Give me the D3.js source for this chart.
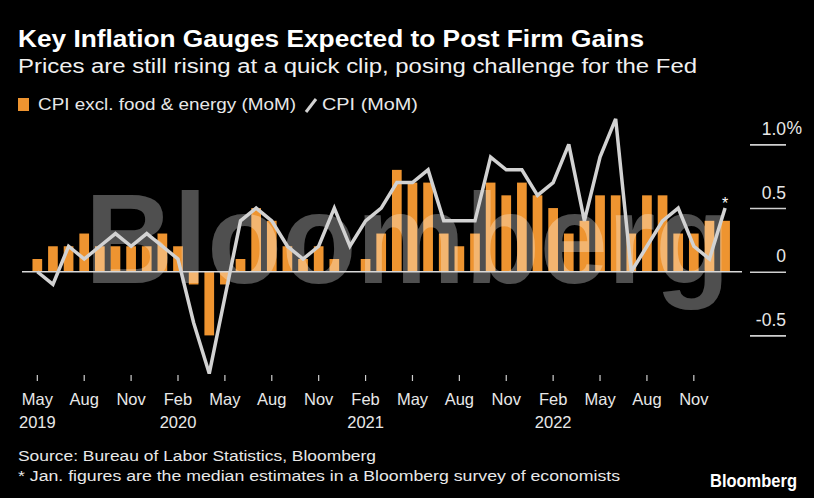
<!DOCTYPE html>
<html>
<head>
<meta charset="utf-8">
<script src="https://cdn.jsdelivr.net/npm/d3@7"></script>
<style>
  html, body { margin: 0; padding: 0; background: #000; }
  svg { display: block; }
  text { font-family: "Liberation Sans", Arial, sans-serif; }
</style>
</head>
<body>
<div id="chart"></div>
<script>
// ---------- DATA ----------
const months = [
  "2019-05","2019-06","2019-07","2019-08","2019-09","2019-10","2019-11","2019-12",
  "2020-01","2020-02","2020-03","2020-04","2020-05","2020-06","2020-07","2020-08","2020-09","2020-10","2020-11","2020-12",
  "2021-01","2021-02","2021-03","2021-04","2021-05","2021-06","2021-07","2021-08","2021-09","2021-10","2021-11","2021-12",
  "2022-01","2022-02","2022-03","2022-04","2022-05","2022-06","2022-07","2022-08","2022-09","2022-10","2022-11","2022-12",
  "2023-01"
];
// CPI excl. food & energy, MoM %
const coreCPI = [
  0.1, 0.2, 0.2, 0.3, 0.2, 0.2, 0.2, 0.2,
  0.3, 0.2, -0.1, -0.5, -0.1, 0.1, 0.5, 0.4, 0.2, 0.1, 0.2, 0.1,
  0.0, 0.1, 0.3, 0.8, 0.7, 0.7, 0.3, 0.2, 0.3, 0.7, 0.6, 0.7,
  0.6, 0.5, 0.3, 0.4, 0.6, 0.6, 0.3, 0.6, 0.6, 0.3, 0.3, 0.4,
  0.4
];
// Headline CPI, MoM %
const headlineCPI = [
  0.0, -0.1, 0.2, 0.1, 0.2, 0.3, 0.2, 0.3,
  0.2, 0.1, -0.4, -0.8, -0.2, 0.4, 0.5, 0.4, 0.2, 0.1, 0.2, 0.5,
  0.2, 0.4, 0.5, 0.7, 0.7, 0.8, 0.4, 0.4, 0.4, 0.9, 0.8, 0.8,
  0.6, 0.7, 1.0, 0.4, 0.9, 1.2, 0.0, 0.2, 0.4, 0.5, 0.2, 0.1,
  0.5
];
const xTickMonths = ["2019-05","2019-08","2019-11","2020-02","2020-05","2020-08","2020-11",
  "2021-02","2021-05","2021-08","2021-11","2022-02","2022-05","2022-08","2022-11"];
const xTickLabels = ["May","Aug","Nov","Feb","May","Aug","Nov","Feb","May","Aug","Nov","Feb","May","Aug","Nov"];
const xTickYears  = ["2019","","","2020","","","","2021","","","","2022","","",""];
const yTicks = [-0.5, 0, 0.5, 1.0];
const yTickLabels = ["-0.5", "0", "0.5", "1.0"];

const title = "Key Inflation Gauges Expected to Post Firm Gains";
const subtitle = "Prices are still rising at a quick clip, posing challenge for the Fed";
const legendCore = "CPI excl. food & energy (MoM)";
const legendCPI = "CPI (MoM)";
const source = "Source: Bureau of Labor Statistics, Bloomberg";
const note = "* Jan. figures are the median estimates in a Bloomberg survey of economists";

// ---------- CHART ----------
const W = 814, H = 498;
const ORANGE = "#EE9430";
const LINE = "#d2d2d2";
const TEXT = "#e8e8e8";

const svg = d3.select("#chart").append("svg").attr("width", W).attr("height", H);
svg.append("rect").attr("width", W).attr("height", H).attr("fill", "#000");

const x = d3.scaleBand().domain(months).range([29.5, 732.9]).paddingInner(0.38).paddingOuter(0.19);
const y = d3.scaleLinear().domain([-0.5, 1.0]).range([335.4, 144.4]);
const cx = m => x(m) + x.bandwidth() / 2;

// Bars
svg.append("g").selectAll("rect").data(months).join("rect")
  .attr("x", d => x(d))
  .attr("width", x.bandwidth())
  .attr("y", (d, i) => Math.min(y(coreCPI[i]), y(0)))
  .attr("height", (d, i) => Math.abs(y(coreCPI[i]) - y(0)))
  .attr("fill", ORANGE);

// Watermark
svg.append("text")
  .attr("x", 85).attr("y", 283)
  .attr("font-size", 128).attr("font-weight", "bold")
  .attr("textLength", 645).attr("lengthAdjust", "spacingAndGlyphs")
  .attr("fill", "#ffffff").attr("fill-opacity", 0.31)
  .text("Bloomberg");

// Zero line
svg.append("line")
  .attr("x1", 22).attr("x2", 742).attr("y1", y(0)).attr("y2", y(0))
  .attr("stroke", "#d8d8d8").attr("stroke-width", 1.6);

// CPI line
const line = d3.line().x((d, i) => cx(months[i])).y(d => y(d));
svg.append("path").datum(headlineCPI)
  .attr("d", line).attr("fill", "none")
  .attr("stroke", LINE).attr("stroke-width", 3.5)
  .attr("stroke-linejoin", "miter").attr("stroke-miterlimit", 3);

// Asterisk on last point
const lastM = months[months.length - 1];
svg.append("text")
  .attr("x", cx(lastM)).attr("y", y(headlineCPI[headlineCPI.length - 1]) + 1)
  .attr("text-anchor", "middle").attr("font-size", 16).attr("fill", "#fff")
  .text("*");

// X axis
const xAxis = d3.axisBottom(x).tickValues(xTickMonths).tickSize(6).tickFormat("");
const gx = svg.append("g").attr("transform", "translate(0,375)").call(xAxis);
gx.select(".domain").remove();
gx.selectAll(".tick line").attr("stroke", "#cfcfcf").attr("stroke-width", 1.2);
gx.selectAll(".tick").each(function (d, i) {
  const t = d3.select(this).append("text")
    .attr("fill", TEXT).attr("font-size", 16.5).attr("text-anchor", "middle");
  t.append("tspan").attr("x", 0).attr("y", 30).text(xTickLabels[i]);
  if (xTickYears[i]) t.append("tspan").attr("x", 0).attr("y", 53).text(xTickYears[i]);
});

// Y axis (right)
const yAxis = d3.axisRight(y).tickValues(yTicks).tickSize(36).tickFormat((d, i) => yTickLabels[i]);
const gy = svg.append("g").attr("transform", "translate(750,0)").call(yAxis);
gy.select(".domain").remove();
gy.selectAll(".tick line").attr("stroke", "#cfcfcf").attr("stroke-width", 1.6);
gy.selectAll(".tick text")
  .attr("x", 36).attr("y", -10).attr("dy", 0)
  .attr("text-anchor", "end").attr("fill", TEXT).attr("font-size", 17.5)
  .attr("font-family", "Liberation Sans, Arial, sans-serif");
gy.append("text").attr("x", 36.5).attr("y", y(1.0) - 10)
  .attr("fill", TEXT).attr("font-size", 17.5).attr("font-family", "Liberation Sans, Arial, sans-serif")
  .text("%");

// Title + subtitle
svg.append("text").attr("x", 18).attr("y", 47)
  .attr("font-size", 23).attr("font-weight", "bold").attr("fill", "#fff")
  .attr("textLength", 626).attr("lengthAdjust", "spacingAndGlyphs")
  .text(title);
svg.append("text").attr("x", 18).attr("y", 73)
  .attr("font-size", 20).attr("fill", "#f0f0f0")
  .attr("textLength", 679).attr("lengthAdjust", "spacingAndGlyphs")
  .text(subtitle);

// Legend
svg.append("rect").attr("x", 18).attr("y", 98).attr("width", 11).attr("height", 13).attr("fill", ORANGE);
svg.append("text").attr("x", 38).attr("y", 110)
  .attr("font-size", 17).attr("fill", TEXT)
  .attr("textLength", 258).attr("lengthAdjust", "spacingAndGlyphs")
  .text(legendCore);
svg.append("line").attr("x1", 306).attr("y1", 112).attr("x2", 316).attr("y2", 99)
  .attr("stroke", LINE).attr("stroke-width", 3);
svg.append("text").attr("x", 322).attr("y", 110)
  .attr("font-size", 17).attr("fill", TEXT)
  .attr("textLength", 96).attr("lengthAdjust", "spacingAndGlyphs")
  .text(legendCPI);

// Footnotes
svg.append("text").attr("x", 18).attr("y", 461)
  .attr("font-size", 15.5).attr("fill", TEXT)
  .attr("textLength", 358).attr("lengthAdjust", "spacingAndGlyphs")
  .text(source);
svg.append("text").attr("x", 18).attr("y", 481)
  .attr("font-size", 15.5).attr("fill", TEXT)
  .attr("textLength", 602).attr("lengthAdjust", "spacingAndGlyphs")
  .text(note);

// Bloomberg logo
svg.append("text").attr("x", 797).attr("y", 487)
  .attr("text-anchor", "end").attr("font-size", 17.5).attr("font-weight", "bold").attr("fill", "#fff")
  .attr("textLength", 87).attr("lengthAdjust", "spacingAndGlyphs")
  .text("Bloomberg");
</script>
</body>
</html>
